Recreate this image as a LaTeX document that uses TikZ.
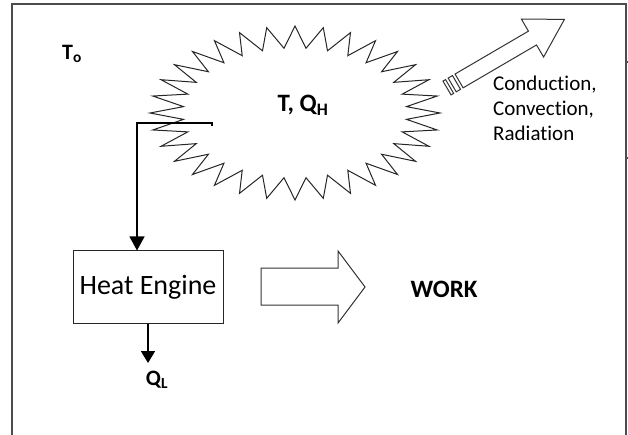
\documentclass[tikz,border=0pt]{standalone}
\usepackage{fontspec}
\setmainfont{Carlito}[Ligatures=NoCommon]
\usetikzlibrary{arrows.meta}

\begin{document}
\begin{tikzpicture}[
    x=1pt, y=-1pt,
    >=Stealth,
    wall/.style={draw=black!70, line width=1.4pt},
    spikes/.style={draw=black!85, line width=1pt, line join=miter},
    flow/.style={draw=black, line width=1.1pt},
    hollow/.style={draw=black!80, line width=1pt},
    sym/.style={inner sep=0pt, font=\bfseries\fontsize{22}{26}\selectfont},
    box/.style={draw=black!85, line width=1pt, minimum width=150pt, minimum height=72pt, inner sep=0pt}
]
\useasboundingbox (0,0) rectangle (628,435);

% frame
\draw[wall] (12,435) -- (12,4) -- (626,4) -- (626,435);
\draw[wall] (626,62) -- (628,62);
\draw[wall] (626,158) -- (628,158);

% hot body, 32 spikes
\begin{scope}[shift={(295,113)}]
\draw[spikes] (0:145 and 87)
  \foreach \k in {0,...,31} { -- ({\k*11.25+5.625}:112 and 65) -- ({(\k+1)*11.25}:145 and 87) } -- cycle;
\end{scope}

% labels
\node[sym] (ambient) at (72,54) {T\textsubscript{o}};
\node[sym, font=\bfseries\fontsize{25}{30}\selectfont] (hot) at (303,105) {T, Q\textsubscript{H}};
\node[box, font=\fontsize{28}{32}\selectfont] (engine) at (148,287) {Heat Engine};
\node[sym, font=\bfseries\fontsize{25}{30}\selectfont] (work) at (444,289) {WORK};
\node[sym] (cold) at (157,380) {Q\textsubscript{L}};
\node[align=left, anchor=north west, inner sep=0pt, font=\fontsize{21}{25}\selectfont] (modes) at (493,76) {Conduction,\\Convection,\\Radiation};

% heat in and heat out
\coordinate (tap) at (212,123);
\coordinate (bend) at (137,123);
\draw[flow, -{Triangle[width=15pt,length=14pt]}] (tap) ++(0,3) -- (tap) -- (bend) -- (bend |- engine.north);
\coordinate (drain) at (148,363);
\draw[flow, -{Bar[width=14pt,line width=1.1pt]Triangle[width=13pt,length=11pt]}] (engine.south) -- (drain);

% work output
\draw[hollow] (261,268) -- (338,268) -- (338,251) -- (365,287) -- (338,323) -- (338,305) -- (261,305) -- cycle;

% losses to surroundings
\begin{scope}[shift={(447,88)}, rotate=30.3]
\draw[hollow] (0,-8) rectangle (3,8);
\draw[hollow] (6,-8) rectangle (11,8);
\draw[hollow] (14,-8) -- (99,-8) -- (99,-22) -- (136,0) -- (99,22) -- (99,8) -- (14,8) -- cycle;
\end{scope}

\end{tikzpicture}
\end{document}
